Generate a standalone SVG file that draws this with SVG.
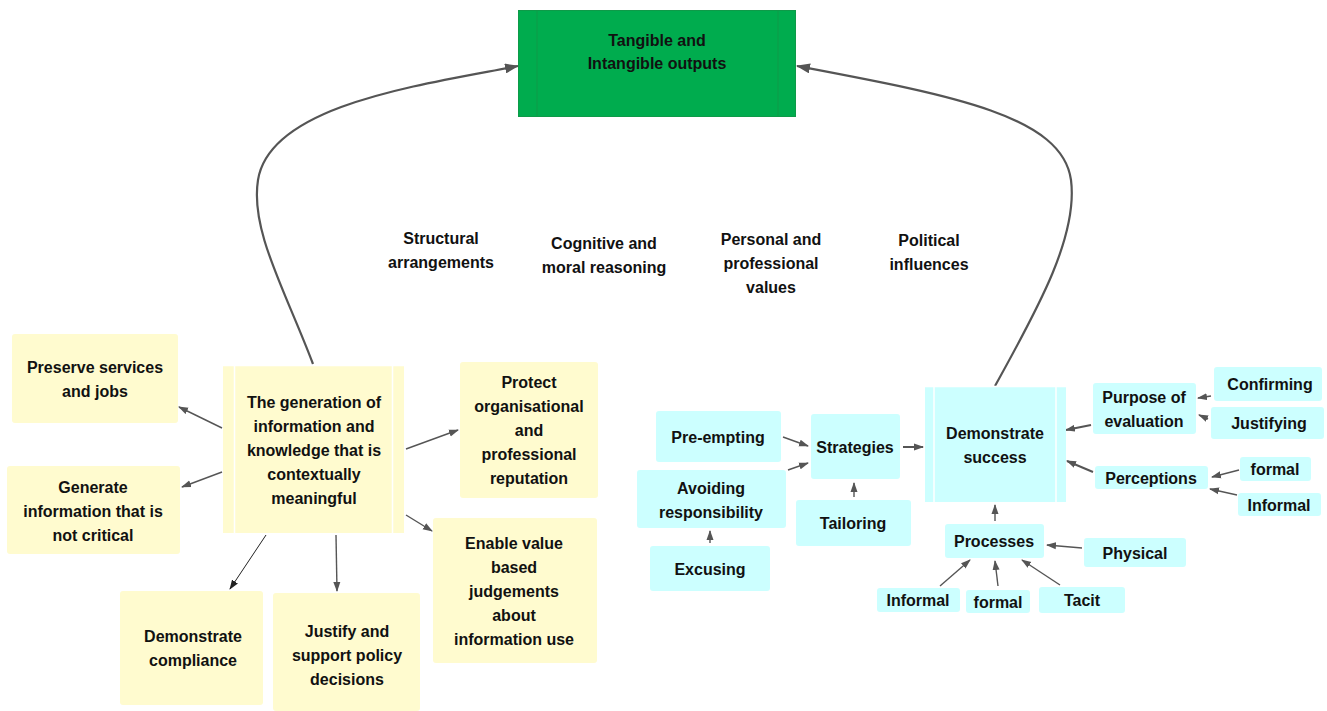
<svg xmlns="http://www.w3.org/2000/svg" width="1327" height="711" viewBox="0 0 1327 711">
<style>
text{font-family:"Liberation Sans",Arial,sans-serif;font-weight:bold;font-size:16px;fill:#111;text-anchor:middle}
.y{fill:#FFFBCF}
.c{fill:#CCFFFF}
.e{stroke:#555;stroke-width:1.4;fill:none;marker-end:url(#a)}
.big{stroke:#555;stroke-width:2.2;fill:none;marker-end:url(#b)}
.thin{stroke:#222;stroke-width:1;fill:none;marker-end:url(#k)}
.sep{stroke:#fff;stroke-width:1.5}
</style>
<defs>
<marker id="a" markerUnits="userSpaceOnUse" markerWidth="10" markerHeight="8" refX="9" refY="4" orient="auto"><path d="M0,0.5 L10,4 L0,7.5 Z" fill="#555"/></marker>
<marker id="b" markerUnits="userSpaceOnUse" markerWidth="14" markerHeight="10" refX="13" refY="5" orient="auto"><path d="M0,0 L14,5 L0,10 Z" fill="#555"/></marker>
<marker id="k" markerUnits="userSpaceOnUse" markerWidth="10" markerHeight="8" refX="9" refY="4" orient="auto"><path d="M0,0.5 L10,4 L0,7.5 Z" fill="#222"/></marker>
</defs>
<rect width="1327" height="711" fill="#fff"/>

<g id="connectors">
<path class="big" d="M313,364 C285,290 250,230 258,180 C270,105 420,85 518,66"/>
<path class="big" d="M995,386 C1040,305 1078,235 1071,180 C1062,115 950,95 797,66"/>
<path class="e" d="M222,428 L179,407"/>
<path class="e" d="M222,472 L182,487"/>
<path class="e" d="M406,449 L458,430"/>
<path class="e" d="M406,515 L432,531"/>
<path class="thin" d="M266,535 L230,589"/>
<path class="e" d="M336,535 L337,591"/>
<path class="e" d="M783,437 L808,446"/>
<path class="e" d="M788,470 L808,463"/>
<path class="e" d="M710,543 L710,531"/>
<path class="e" d="M854,497 L854,483"/>
<path class="e" style="stroke-width:2" d="M903,447 L923,447"/>
<path class="e" style="stroke-width:2" d="M1091,425 L1066,430"/>
<path class="e" style="stroke-width:2" d="M1093,472 L1067,461"/>
<path class="e" d="M1211,396 L1198,398"/>
<path class="e" d="M1208,419 L1199,415"/>
<path class="e" d="M1239,470 L1212,477"/>
<path class="e" d="M1237,495 L1210,489"/>
<path class="e" d="M995,521 L995,505"/>
<path class="e" d="M1082,548 L1047,545"/>
<path class="e" d="M940,586 L970,560"/>
<path class="e" d="M998,586 L995,561"/>
<path class="e" d="M1060,585 L1022,560"/>
</g>

<g id="outputs">
<rect x="518.5" y="10.5" width="277" height="106" fill="#00AC4E" stroke="#0E9A48"/>
<line x1="537" y1="11" x2="537" y2="116" stroke="#0E9A48"/>
<line x1="778" y1="11" x2="778" y2="116" stroke="#0E9A48"/>
<text x="657" y="46">Tangible and</text>
<text x="657" y="69">Intangible outputs</text>
</g>

<g id="labels">
<text x="441" y="244">Structural</text>
<text x="441" y="268">arrangements</text>
<text x="604" y="249">Cognitive and</text>
<text x="604" y="273">moral reasoning</text>
<text x="771" y="245">Personal and</text>
<text x="771" y="269">professional</text>
<text x="771" y="293">values</text>
<text x="929" y="246">Political</text>
<text x="929" y="270">influences</text>
</g>

<g id="central">
<rect class="y" x="223" y="365" width="181" height="168"/>
<line class="sep" x1="234.5" y1="365" x2="234.5" y2="533"/>
<line class="sep" x1="392.5" y1="365" x2="392.5" y2="533"/>
<line class="sep" x1="223" y1="365.5" x2="404" y2="365.5"/>
<text x="314" y="408">The generation of</text>
<text x="314" y="432">information and</text>
<text x="314" y="456">knowledge that is</text>
<text x="314" y="480">contextually</text>
<text x="314" y="504">meaningful</text>
</g>
<g id="preserve">
<rect class="y" x="12" y="334" width="166" height="89" rx="3"/>
<text x="95" y="373">Preserve services</text>
<text x="95" y="397">and jobs</text>
</g>
<g id="generate">
<rect class="y" x="7" y="466" width="173" height="88" rx="3"/>
<text x="93" y="493">Generate</text>
<text x="93" y="517">information that is</text>
<text x="93" y="541">not critical</text>
</g>
<g id="protect">
<rect class="y" x="460" y="362" width="138" height="136" rx="3"/>
<text x="529" y="388">Protect</text>
<text x="529" y="412">organisational</text>
<text x="529" y="436">and</text>
<text x="529" y="460">professional</text>
<text x="529" y="484">reputation</text>
</g>
<g id="enable">
<rect class="y" x="433" y="518" width="164" height="145" rx="3"/>
<text x="514" y="549">Enable value</text>
<text x="514" y="573">based</text>
<text x="514" y="597">judgements</text>
<text x="514" y="621">about</text>
<text x="514" y="645">information use</text>
</g>
<g id="compliance">
<rect class="y" x="120" y="591" width="143" height="114" rx="3"/>
<text x="193" y="642">Demonstrate</text>
<text x="193" y="666">compliance</text>
</g>
<g id="justify">
<rect class="y" x="273" y="593" width="147" height="118" rx="3"/>
<text x="347" y="637">Justify and</text>
<text x="347" y="661">support policy</text>
<text x="347" y="685">decisions</text>
</g>

<g id="preempting">
<rect class="c" x="656" y="411" width="125" height="51" rx="3"/>
<text x="718" y="443">Pre-empting</text>
</g>
<g id="avoiding">
<rect class="c" x="637" y="470" width="149" height="58" rx="3"/>
<text x="711" y="494">Avoiding</text>
<text x="711" y="518">responsibility</text>
</g>
<g id="excusing">
<rect class="c" x="650" y="546" width="120" height="45" rx="3"/>
<text x="710" y="575">Excusing</text>
</g>
<g id="strategies">
<rect class="c" x="811" y="414" width="89" height="65" rx="3"/>
<text x="855" y="453">Strategies</text>
</g>
<g id="tailoring">
<rect class="c" x="796" y="500" width="115" height="46" rx="3"/>
<text x="853" y="529">Tailoring</text>
</g>
<g id="success">
<rect class="c" x="925" y="386" width="141" height="116"/>
<line class="sep" x1="934" y1="386" x2="934" y2="502"/>
<line class="sep" x1="1056" y1="386" x2="1056" y2="502"/>
<line class="sep" x1="925" y1="386.5" x2="1066" y2="386.5"/>
<text x="995" y="439">Demonstrate</text>
<text x="995" y="463">success</text>
</g>
<g id="purpose">
<rect class="c" x="1093" y="383" width="103" height="51" rx="3"/>
<text x="1144" y="403">Purpose of</text>
<text x="1144" y="427">evaluation</text>
</g>
<g id="confirming">
<rect class="c" x="1214" y="367" width="108" height="34" rx="3"/>
<text x="1270" y="390">Confirming</text>
</g>
<g id="justifying">
<rect class="c" x="1211" y="407" width="113" height="32" rx="3"/>
<text x="1269" y="429">Justifying</text>
</g>
<g id="perceptions">
<rect class="c" x="1095" y="466" width="113" height="23" rx="3"/>
<text x="1151" y="484">Perceptions</text>
</g>
<g id="formal-r">
<rect class="c" x="1240" y="457" width="71" height="24" rx="3"/>
<text x="1275" y="475">formal</text>
</g>
<g id="informal-r">
<rect class="c" x="1238" y="493" width="83" height="23" rx="3"/>
<text x="1279" y="511">Informal</text>
</g>
<g id="processes">
<rect class="c" x="945" y="524" width="99" height="34" rx="3"/>
<text x="994" y="547">Processes</text>
</g>
<g id="physical">
<rect class="c" x="1084" y="538" width="102" height="29" rx="3"/>
<text x="1135" y="559">Physical</text>
</g>
<g id="informal-b">
<rect class="c" x="877" y="588" width="83" height="24" rx="3"/>
<text x="918" y="606">Informal</text>
</g>
<g id="formal-b">
<rect class="c" x="966" y="590" width="64" height="23" rx="3"/>
<text x="998" y="608">formal</text>
</g>
<g id="tacit">
<rect class="c" x="1039" y="587" width="86" height="26" rx="3"/>
<text x="1082" y="606">Tacit</text>
</g>
</svg>
